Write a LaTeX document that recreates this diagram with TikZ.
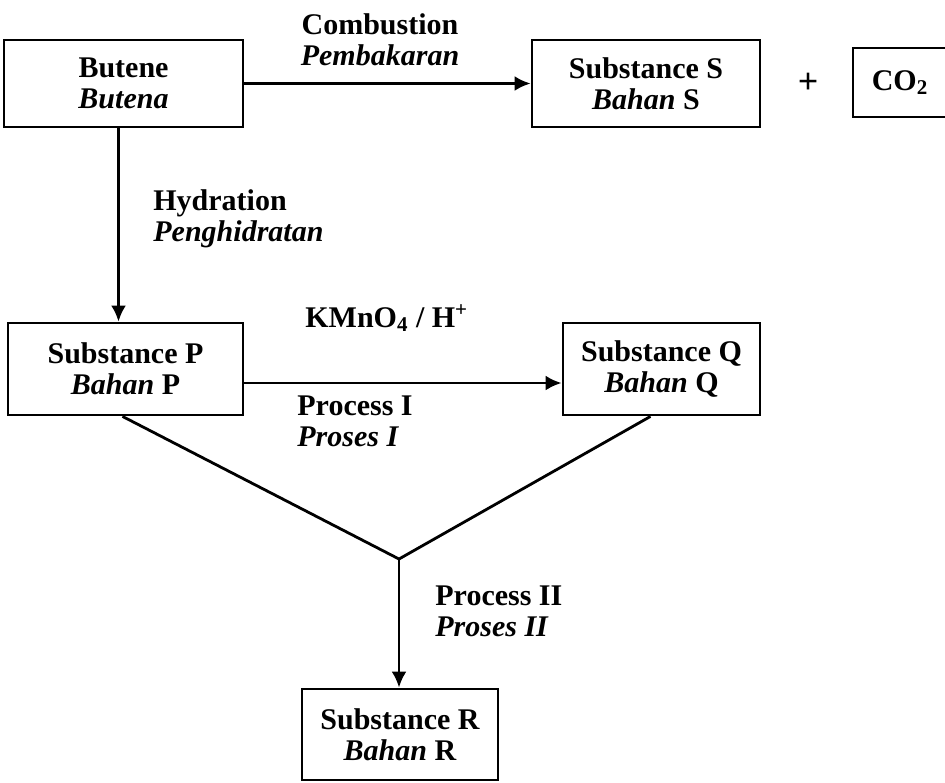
\documentclass[tikz,border=0pt]{standalone}
\usepackage{fontspec}
\setmainfont{Liberation Serif}
\usetikzlibrary{arrows.meta, positioning}

\begin{document}
\begin{tikzpicture}[
		x=0.5pt, y=-0.5pt,
		every node/.style={font=\bfseries\fontsize{15}{15.5}\selectfont, inner sep=0pt},
		box/.style={rectangle, draw, line width=1.4pt, align=center},
		note/.style={align=left},
		flow/.style={draw, line width=1.4pt, -{Latex[length=8pt, width=7.5pt]}},
		link/.style={draw, line width=1.4pt}
	]
	\useasboundingbox (0,0) rectangle (945,782);
	\node[box, minimum width=119.5pt, minimum height=43.5pt] (butene) at (123.5,83.5) {Butene \\ \textit{Butena}};
	\node[box, minimum width=114pt, minimum height=43.5pt] (s) at (646,83.5) {Substance S \\ \textit{Bahan} S};
	\node[font=\bfseries\fontsize{18}{18}\selectfont] (plus) at (808,83) {+};
	\node[box, minimum width=47pt, minimum height=34.5pt] (co2) at (900,82.5) {CO\textsubscript{2}};
	\node[box, minimum width=117.5pt, minimum height=46pt] (p) at (125.5,369) {Substance P \\ \textit{Bahan} P};
	\node[box, minimum width=98.5pt, minimum height=46pt] (q) at (661.5,369) {Substance Q \\ \textit{Bahan} Q};
	\node[box, minimum width=98pt, minimum height=45.5pt] (r) at (400,734.5) {Substance R \\ \textit{Bahan} R};
	\coordinate (junction) at (399,559);

	\node[align=center] (combustion) at (380,40) {Combustion \\ \textit{Pembakaran}};
	\node[note, anchor=west] (hydration) at (153,219) {Hydration \\ \textit{Penghidratan}};
	\node[anchor=west] (reagent) at (305,318) {KMnO\textsubscript{4} / H\textsuperscript{+}};
	\node[note, anchor=west] (process1) at (297,421) {Process I \\ \textit{Proses I}};
	\node[note, anchor=west] (process2) at (435,611) {Process II \\ \textit{Proses II}};

	\draw[flow] (butene) -- (s);
	\draw[flow] ([xshift=-2.5pt]butene.south) -- ([xshift=-2.5pt]butene.south |- p.north);
	\draw[flow] ([yshift=-7pt]p.east) -- ([yshift=-7pt]q.west);
	\draw[link] ([xshift=-1.5pt]p.south) -- (junction) -- ([xshift=-5.5pt]q.south);
	\draw[flow] (junction) -- (junction |- r.north);
\end{tikzpicture}
\end{document}
